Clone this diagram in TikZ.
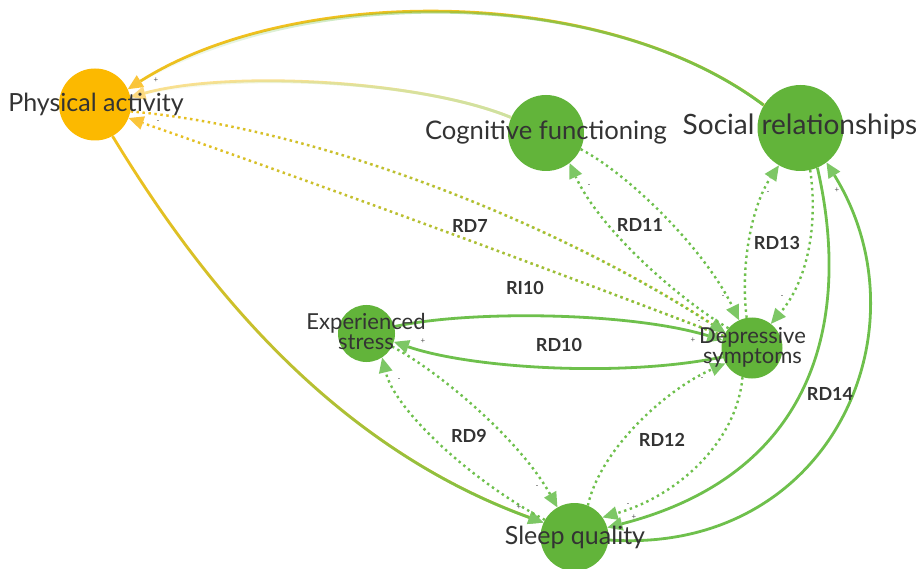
\documentclass[tikz,border=0pt]{standalone}
\usepackage{fontspec}
\setmainfont{Lato}
\usetikzlibrary{arrows.meta,fadings}
\definecolor{nodegreen}{HTML}{62B43A}
\definecolor{nodeorange}{HTML}{FCB900}
\definecolor{edgegreen}{HTML}{6EC04C}
\definecolor{tipgreen}{HTML}{7DC765}
\definecolor{edgeyellow}{HTML}{F2C01E}
\definecolor{tipyellow}{HTML}{FBC53A}
\definecolor{paleyellow}{HTML}{FBE08F}
\definecolor{palegreen}{HTML}{CDE2A2}
\definecolor{paletip}{HTML}{FDD97F}
\definecolor{txtcol}{HTML}{333333}
\definecolor{signcol}{HTML}{555555}
\tikzfading[name=fadeinright, left color=transparent!100, right color=transparent!0]
\begin{document}
\begin{tikzpicture}[x=1pt,y=-1pt,
  bubble/.style={circle, inner sep=0pt, draw=none},
  solidedge/.style={line width=2.8pt},
  dotedge/.style={line width=2.4pt, dash pattern=on 2.4pt off 3.6pt},
  gtip/.style={-{Triangle[length=15pt,width=14pt,line width=0pt,color=tipgreen]}},
  ytip/.style={-{Triangle[length=15pt,width=14pt,line width=0pt,color=tipyellow]}},
  ptip/.style={-{Triangle[length=15pt,width=14pt,line width=0pt,color=paletip]}},
  bigtxt/.style={font=\fontsize{25}{30}\selectfont, text=txtcol, inner sep=0pt},
  midtxt/.style={font=\fontsize{22}{20}\selectfont, text=txtcol, inner sep=0pt, align=center},
  rdtxt/.style={font=\fontsize{18}{18}\selectfont\bfseries, text=txtcol, inner sep=0pt},
  signtxt/.style={font=\fontsize{8}{8}\selectfont, text=signcol, inner sep=0pt}
]
\useasboundingbox (0,0) rectangle (921,569);
\clip (0,0) rectangle (921,569);
\fill[white] (0,0) rectangle (921,569);

% nodes
\node[bubble, fill=nodeorange, minimum size=72pt] (pa) at (95,104.5) {};
\node[bubble, fill=nodegreen, minimum size=76pt] (cf) at (546,133) {};
\node[bubble, fill=nodegreen, minimum size=86pt] (sr) at (800.5,128) {};
\node[bubble, fill=nodegreen, minimum size=57pt] (es) at (366.5,333.5) {};
\node[bubble, fill=nodegreen, minimum size=61pt] (ds) at (752,348) {};
\node[bubble, fill=nodegreen, minimum size=68pt] (sq) at (574.5,537) {};

% SR -> PA
\draw[solidedge, edgeyellow, ytip] (sr.148) .. controls (600,-18) and (290,-14) .. (pa.25);
\draw[solidedge, edgegreen, path fading=fadeinright] (sr.148) .. controls (600,-18) and (290,-14) .. (pa.25);
% CF -> PA
\draw[solidedge, paleyellow, ptip] (cf.156) .. controls (420,80) and (230,70) .. (pa.12);
\draw[solidedge, palegreen, path fading=fadeinright] (cf.156) .. controls (420,80) and (230,70) .. (pa.12);
% PA -> DS
\draw[dotedge, edgeyellow, gtip] (pa.-11) .. controls (320,128) and (560,225) .. (ds.150);
\draw[dotedge, edgegreen, gtip, path fading=fadeinright] (pa.-11) .. controls (320,128) and (560,225) .. (ds.150);
% DS -> PA
\draw[dotedge, edgeyellow, ytip] (ds.157) .. controls (530,262) and (330,188) .. (pa.-22);
\draw[dotedge, edgegreen, path fading=fadeinright] (ds.157) .. controls (530,262) and (330,188) .. (pa.-22);
% PA -> SQ
\draw[solidedge, edgeyellow, gtip] (pa.-61) .. controls (200,280) and (330,445) .. (sq.155);
\draw[solidedge, edgegreen, gtip, path fading=fadeinright] (pa.-61) .. controls (200,280) and (330,445) .. (sq.155);
% CF <-> DS
\draw[dotedge, edgegreen, gtip] (cf.-25) .. controls (630,175) and (705,250) .. (ds.115);
\draw[dotedge, edgegreen, gtip] (ds.140) .. controls (680,300) and (600,230) .. (cf.-52);
% SR <-> DS
\draw[dotedge, edgegreen, gtip] (ds.100) .. controls (740,265) and (752,205) .. (sr.-120);
\draw[dotedge, edgegreen, gtip] (sr.-77) .. controls (818,225) and (808,280) .. (ds.52);
% SR <-> SQ
\draw[solidedge, edgegreen, gtip] (sr.-67) .. controls (848,300) and (830,470) .. (sq.16);
\draw[solidedge, edgegreen, gtip] (sq.-5) .. controls (830,555) and (930,330) .. (sr.-53);
% ES <-> DS
\draw[solidedge, edgegreen, gtip] (es.14) .. controls (470,310) and (630,312) .. (ds.165);
\draw[solidedge, edgegreen, gtip] (ds.-163) .. controls (620,378) and (470,368) .. (es.-17);
% ES <-> SQ
\draw[dotedge, edgegreen, gtip] (es.-27) .. controls (440,372) and (520,440) .. (sq.120);
\draw[dotedge, edgegreen, gtip] (sq.150) .. controls (470,480) and (395,410) .. (es.-57);
% SQ <-> DS
\draw[dotedge, edgegreen, gtip] (sq.67) .. controls (600,450) and (665,390) .. (ds.-150);
\draw[dotedge, edgegreen, gtip] (ds.-108) .. controls (737,440) and (680,495) .. (sq.35);

% node texts
\node[bigtxt, anchor=base] (pat) at (96,112) {Physical activity};
\node[bigtxt, anchor=base, font=\fontsize{25.6}{30}\selectfont] (cft) at (546,140) {Cognitive functioning};
\node[bigtxt, anchor=base, font=\fontsize{28}{32}\selectfont] (srt) at (800,135) {Social relationships};
\node[bigtxt, anchor=base] (sqt) at (575,544) {Sleep quality};
\node[midtxt] (est) at (366,331) {Experienced\\stress};
\node[midtxt] (dst) at (752.5,347) {Depressive\\symptoms};

% relation labels
\node[rdtxt] (rd7) at (470,226) {RD7};
\node[rdtxt] (rd11) at (640,225) {RD11};
\node[rdtxt] (rd13) at (777,243) {RD13};
\node[rdtxt] (ri10) at (525,288) {RI10};
\node[rdtxt] (rd10) at (559,345) {RD10};
\node[rdtxt] (rd9) at (469,436) {RD9};
\node[rdtxt] (rd12) at (662,440) {RD12};
\node[rdtxt] (rd14) at (830,394) {RD14};

% signs
\node[signtxt] (s1) at (156,80) {+};
\node[signtxt] (s2) at (158,122) {-};
\node[signtxt] (s3) at (589,186) {-};
\node[signtxt] (s4) at (723,297) {-};
\node[signtxt] (s5) at (768,193) {-};
\node[signtxt] (s6) at (782,297) {-};
\node[signtxt] (s7) at (837,190) {+};
\node[signtxt] (s8) at (693,340) {+};
\node[signtxt] (s9) at (699,322) {-};
\node[signtxt] (s10) at (702,379) {-};
\node[signtxt] (s11) at (423,341) {+};
\node[signtxt] (s12) at (399,380) {-};
\node[signtxt] (s13) at (537,487) {-};
\node[signtxt] (s14) at (519,507) {+};
\node[signtxt] (s15) at (628,505) {-};
\node[signtxt] (s16) at (634,517) {+};
\end{tikzpicture}
\end{document}
